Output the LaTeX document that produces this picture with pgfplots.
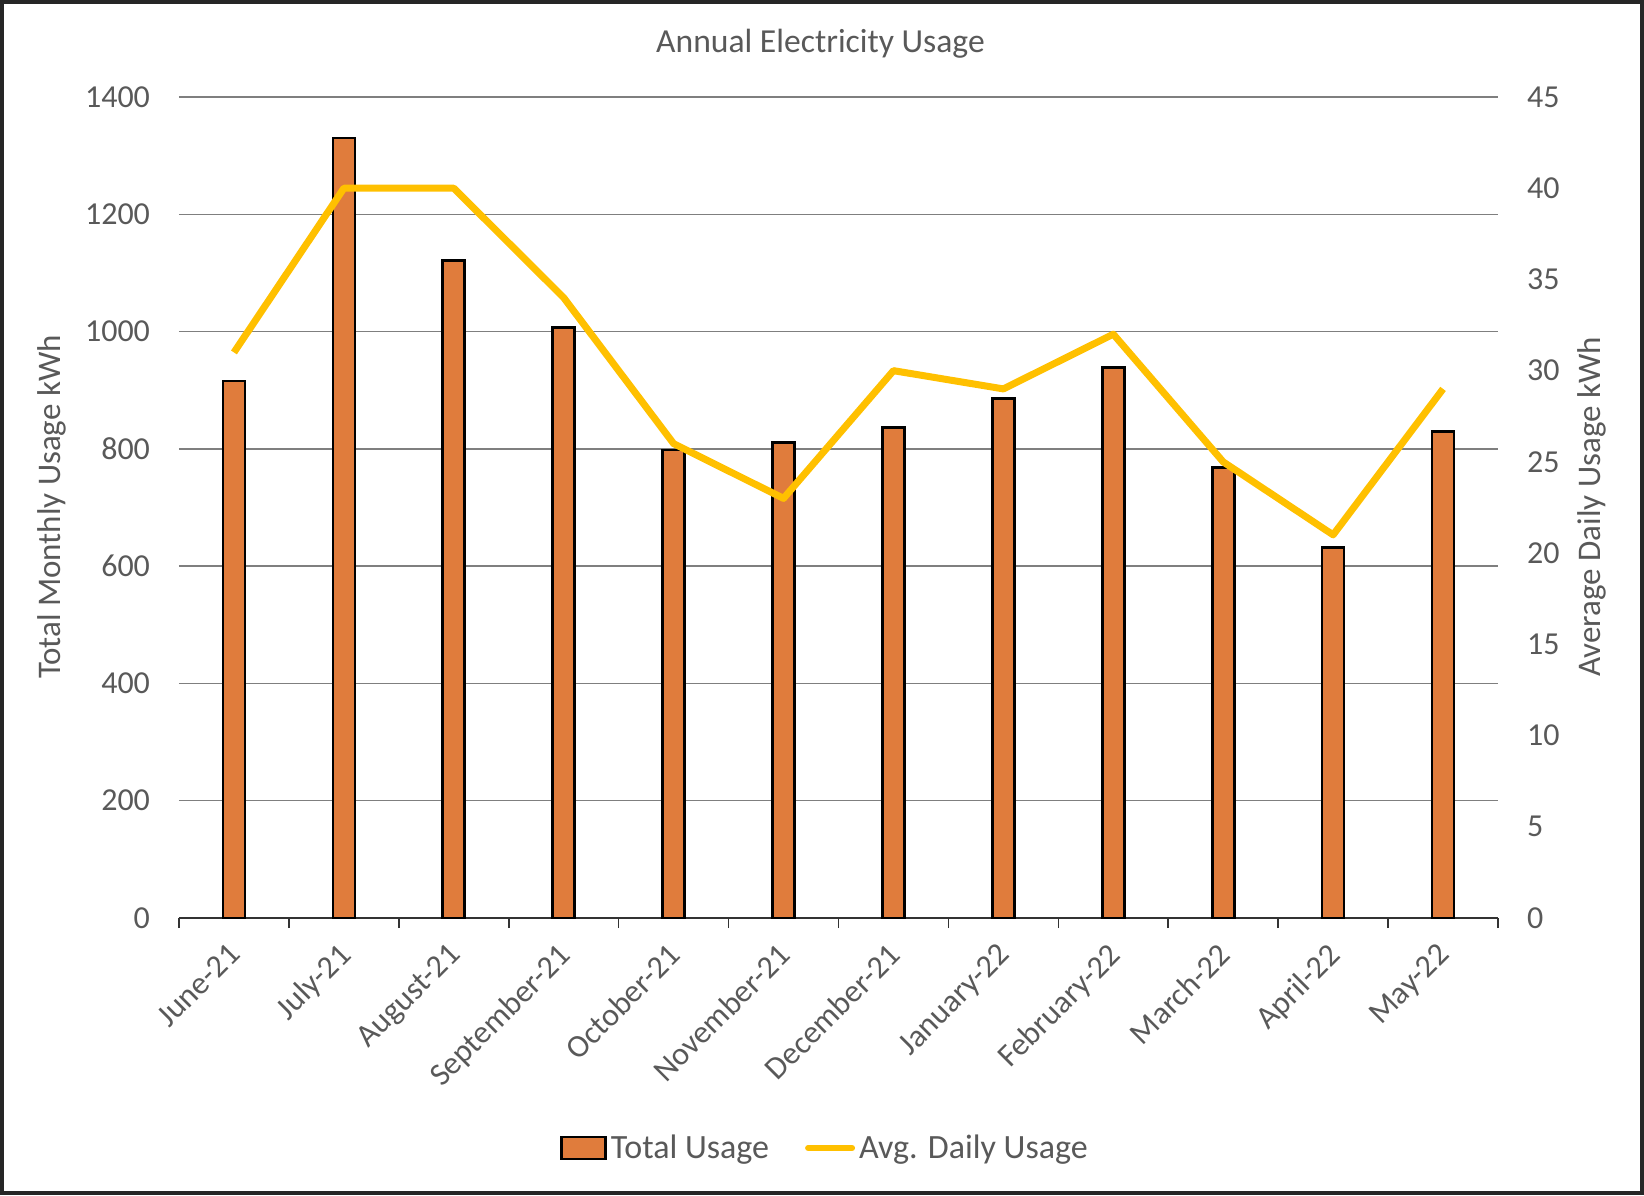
\documentclass[border=0pt]{standalone}
\usepackage{fontspec}
\setmainfont{Carlito}
\usepackage{pgfplots}
\pgfplotsset{compat=1.18}
\definecolor{barorange}{HTML}{E07C3C}
\definecolor{linegold}{HTML}{FFC000}
\definecolor{txtgray}{HTML}{595959}
\definecolor{gridgray}{HTML}{7F7F7F}
\pgfplotsset{
  barleg/.style={legend image code/.code={\draw[fill=barorange, draw=black, line width=1.3pt] (0pt,-5.5pt) rectangle (22pt,5.5pt);}},
  lineleg/.style={legend image code/.code={\draw[linegold, line width=3pt, line cap=round] (1pt,0pt) -- (23pt,0pt);}},
}
\begin{document}
\begin{tikzpicture}
% picture frame: 1644x1195 px at 0.5pt per px, axis origin at px (179,918)
\path[use as bounding box] (-89.5pt,-138.5pt) rectangle (732.5pt,459pt);
\pgfplotsset{
  every axis/.append style={
    scale only axis, width=659.5pt, height=410.5pt,
    xmin=0.5, xmax=12.5,
    /pgf/number format/assume math mode=true,
    /pgf/number format/set thousands separator={},
    tick label style={font=\fontsize{16}{19}\selectfont, text=txtgray},
  }
}
\begin{axis}[
  ymin=0, ymax=1400, ytick={0,200,...,1400},
  axis y line*=left, y axis line style={draw=none},
  axis x line*=bottom, x axis line style={draw=black!80, line width=0.8pt},
  ymajorgrids, grid style={gridgray, line width=0.7pt},
  xtick={1,...,12},
  xticklabels={June-21,July-21,August-21,September-21,October-21,November-21,December-21,January-22,February-22,March-22,April-22,May-22},
  xticklabel style={xshift=-3.5pt, yshift=-10pt, rotate=45, anchor=north east, inner sep=1pt},
  yticklabel style={xshift=-11pt},
  minor xtick={0.5,1.5,...,12.5},
  major tick length=0pt, minor tick length=5pt, tick align=outside,
  minor tick style={black!80, line width=0.8pt},
  ytick style={draw=none},
  legend columns=2,
  legend style={draw=none, at={(323.5pt,-115pt)}, anchor=center,
    font=\fontsize{17}{20}\selectfont, text=txtgray,
    /tikz/every even column/.append style={column sep=16pt},
    nodes={inner sep=2pt}},
]
\addplot[ybar, bar width=11pt, fill=barorange, draw=black, line width=1.3pt, barleg]
  coordinates {
  (1,916) (2,1330) (3,1121) (4,1007) (5,798) (6,811)
  (7,836) (8,886) (9,939) (10,768) (11,632) (12,830)
};
\addlegendentry{Total Usage}
\addlegendimage{lineleg}
\addlegendentry{Avg. Daily Usage}
\end{axis}
\begin{axis}[
  ymin=0, ymax=45, ytick={0,5,...,45},
  axis y line*=right, y axis line style={draw=none},
  axis x line=none,
  ytick style={draw=none},
  yticklabel style={xshift=11pt},
]
\addplot[linegold, line width=3.5pt, line join=round, mark=none] coordinates {
  (1,31) (2,40) (3,40) (4,34) (5,26) (6,23)
  (7,30) (8,29) (9,32) (10,25) (11,21) (12,29)
};
\end{axis}
\node[font=\fontsize{16.8}{20}\selectfont, text=txtgray] at (320.75pt,437pt) {Annual Electricity Usage};
\node[font=\fontsize{16.5}{19}\selectfont, text=txtgray, rotate=90] at (-63.5pt,205.5pt) {Total Monthly Usage kWh};
\node[font=\fontsize{16.5}{19}\selectfont, text=txtgray, rotate=90] at (706.5pt,205.5pt) {Average Daily Usage kWh};
\draw[black!85, line width=2pt] (-88.5pt,-137.5pt) rectangle (731.5pt,458pt);
\end{tikzpicture}
\end{document}
